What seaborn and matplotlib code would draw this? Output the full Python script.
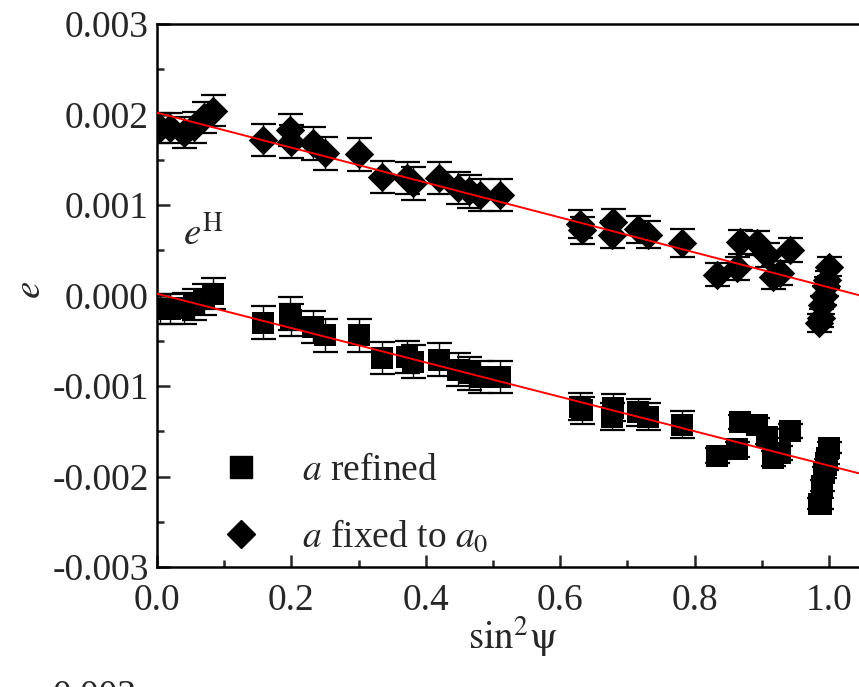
import numpy as np
import pandas as pd
import matplotlib
matplotlib.use("Agg")
import matplotlib.pyplot as plt
from matplotlib.lines import Line2D
from matplotlib.ticker import MultipleLocator, FormatStrFormatter
import seaborn as sns

# ---------------- data ----------------
sin2psi = [0.005, 0.02, 0.04, 0.055, 0.07, 0.083,
           0.158, 0.198, 0.200, 0.232, 0.25,
           0.30, 0.335, 0.372, 0.381, 0.42, 0.448, 0.465, 0.48, 0.51,
           0.63, 0.632, 0.677, 0.679, 0.716, 0.731, 0.781, 0.833, 0.863, 0.868,
           0.893, 0.907, 0.917, 0.927, 0.942,
           0.985, 0.988, 0.99, 0.993, 0.995, 0.997, 1.0]

e_fixed = [0.00185, 0.00185, 0.00180, 0.00186, 0.00197, 0.00204,
           0.00172, 0.00183, 0.00170, 0.00168, 0.00157,
           0.00156, 0.00131, 0.00130, 0.00124, 0.00130, 0.00119, 0.00115, 0.00111, 0.00111,
           0.00079, 0.00072, 0.00067, 0.00081, 0.00073, 0.00067, 0.00058, 0.00023, 0.00030, 0.00059,
           0.00058, 0.00045, 0.00020, 0.00025, 0.00050,
           -0.00030, -0.00025, -0.00010, 0.00000, 0.00010, 0.00017, 0.00032]

e_refined = [-0.00015, -0.00015, -0.00014, -0.00010, -0.00004, 0.00002,
             -0.00030, -0.00020, -0.00027, -0.00035, -0.00044,
             -0.00044, -0.00069, -0.00068, -0.00073, -0.00071, -0.00082, -0.00086, -0.00090, -0.00090,
             -0.00123, -0.00127, -0.00134, -0.00124, -0.00129, -0.00134, -0.00143, -0.00177, -0.00170, -0.00140,
             -0.00143, -0.00156, -0.00180, -0.00174, -0.00150,
             -0.00230, -0.00230, -0.00210, -0.00196, -0.00187, -0.00180, -0.00168]

err_fixed = [0.00017] * 6 + [0.00018] * 14 + [0.00015] * 7 + [0.00013] * 8 + [0.00010] * 7
err_refined = [0.00017] * 6 + [0.00018] * 14 + [0.00015] * 7 + [0.00008] * 8 + [0.00006] * 7

fit_x = [0.0, 1.05]
fit_fixed_intercept, fit_fixed_slope = 0.00202, -0.00193
fit_refined_intercept, fit_refined_slope = 0.00002, -0.00190

xticks = [0.0, 0.2, 0.4, 0.6, 0.8, 1.0]
yticks = [-0.003, -0.002, -0.001, 0.000, 0.001, 0.002, 0.003]

# ---------------- style ----------------
sns.set_theme(style="ticks")
plt.rcParams['font.family'] = ['Liberation Serif', 'DejaVu Serif']
plt.rcParams['mathtext.fontset'] = 'stix'
plt.rcParams['axes.unicode_minus'] = False

W, H = 859, 687
fig = plt.figure(figsize=(W / 100, H / 100), dpi=100)
ax_l, ax_r = 157, 157 + 1.05 * 672
ax_t, ax_b = 24, 567
ax = fig.add_axes([ax_l / W, 1 - ax_b / H, (ax_r - ax_l) / W, (ax_b - ax_t) / H])

df_fixed = pd.DataFrame({"x": sin2psi, "e": e_fixed, "err": err_fixed})
df_ref = pd.DataFrame({"x": sin2psi, "e": e_refined, "err": err_refined})

for df in (df_fixed, df_ref):
    ax.errorbar(df["x"], df["e"], yerr=df["err"], fmt='none', ecolor='black',
                elinewidth=1.0, capsize=9, capthick=1.6, zorder=2)

sns.scatterplot(data=df_ref, x="x", y="e", marker='s', s=16.5 ** 2, color='black',
                linewidth=0, ax=ax, zorder=3, legend=False)
sns.scatterplot(data=df_fixed, x="x", y="e", marker='D', s=15 ** 2, color='black',
                linewidth=0, ax=ax, zorder=3, legend=False)

fx = np.array(fit_x)
fit_df = pd.DataFrame({
    "x": np.concatenate([fx, fx]),
    "e": np.concatenate([fit_fixed_intercept + fit_fixed_slope * fx,
                         fit_refined_intercept + fit_refined_slope * fx]),
    "fit": ["fixed"] * 2 + ["refined"] * 2,
})
sns.lineplot(data=fit_df, x="x", y="e", units="fit", estimator=None, color='red',
             linewidth=1.4, ax=ax, zorder=4, legend=False)

ax.set_xlim(0, 1.05)
ax.set_ylim(-0.003, 0.003)
ax.set_xticks(xticks)
ax.set_yticks(yticks)
ax.xaxis.set_minor_locator(MultipleLocator(0.1))
ax.yaxis.set_minor_locator(MultipleLocator(0.0005))
ax.xaxis.set_major_formatter(FormatStrFormatter('%.1f'))
ax.yaxis.set_major_formatter(FormatStrFormatter('%.3f'))
ax.tick_params(axis='both', which='major', direction='in', length=9, width=1.8)
ax.tick_params(axis='both', which='minor', direction='in', length=5, width=1.8)
ax.tick_params(axis='y', which='major', labelsize=27, pad=6)
ax.tick_params(axis='x', which='major', labelsize=27, pad=12)
ax.tick_params(top=False, right=False, which='both')
for sp in ax.spines.values():
    sp.set_linewidth(1.8)
    sp.set_color('black')

ax.set_xlabel(r"$\mathrm{sin}^{2}\mathrm{\psi}$", fontsize=28)
ax.set_ylabel(r"$e$", fontsize=28)
ax.xaxis.set_label_coords((513 - ax_l) / (ax_r - ax_l), (ax_b - 614) / (ax_b - ax_t))
ax.yaxis.set_label_coords((30 - ax_l) / (ax_r - ax_l), (ax_b - 290) / (ax_b - ax_t))
ax.yaxis.label.set_va('center')

ax.text((183 - ax_l) / (ax_r - ax_l), (ax_b - 245) / (ax_b - ax_t), r"$e^{\mathrm{H}}$",
        transform=ax.transAxes, fontsize=28, ha='left', va='baseline')

handles = [Line2D([], [], marker='s', color='black', linestyle='none', markersize=16),
           Line2D([], [], marker='D', color='black', linestyle='none', markersize=14)]
labels = [r"$a$ refined", r"$a$ fixed to $a_{0}$"]
leg = ax.legend(handles, labels, loc='upper left', frameon=False, fontsize=27,
                bbox_to_anchor=((211 - ax_l) / (ax_r - ax_l), (ax_b - 454) / (ax_b - ax_t)),
                borderaxespad=0, borderpad=0, handletextpad=0.83, labelspacing=0.8,
                handlelength=1.6)

fig.text(53 / W, 1 - 680 / H, "0.003", fontsize=27, ha='left', va='top')

fig.savefig("out.png", dpi=100)
